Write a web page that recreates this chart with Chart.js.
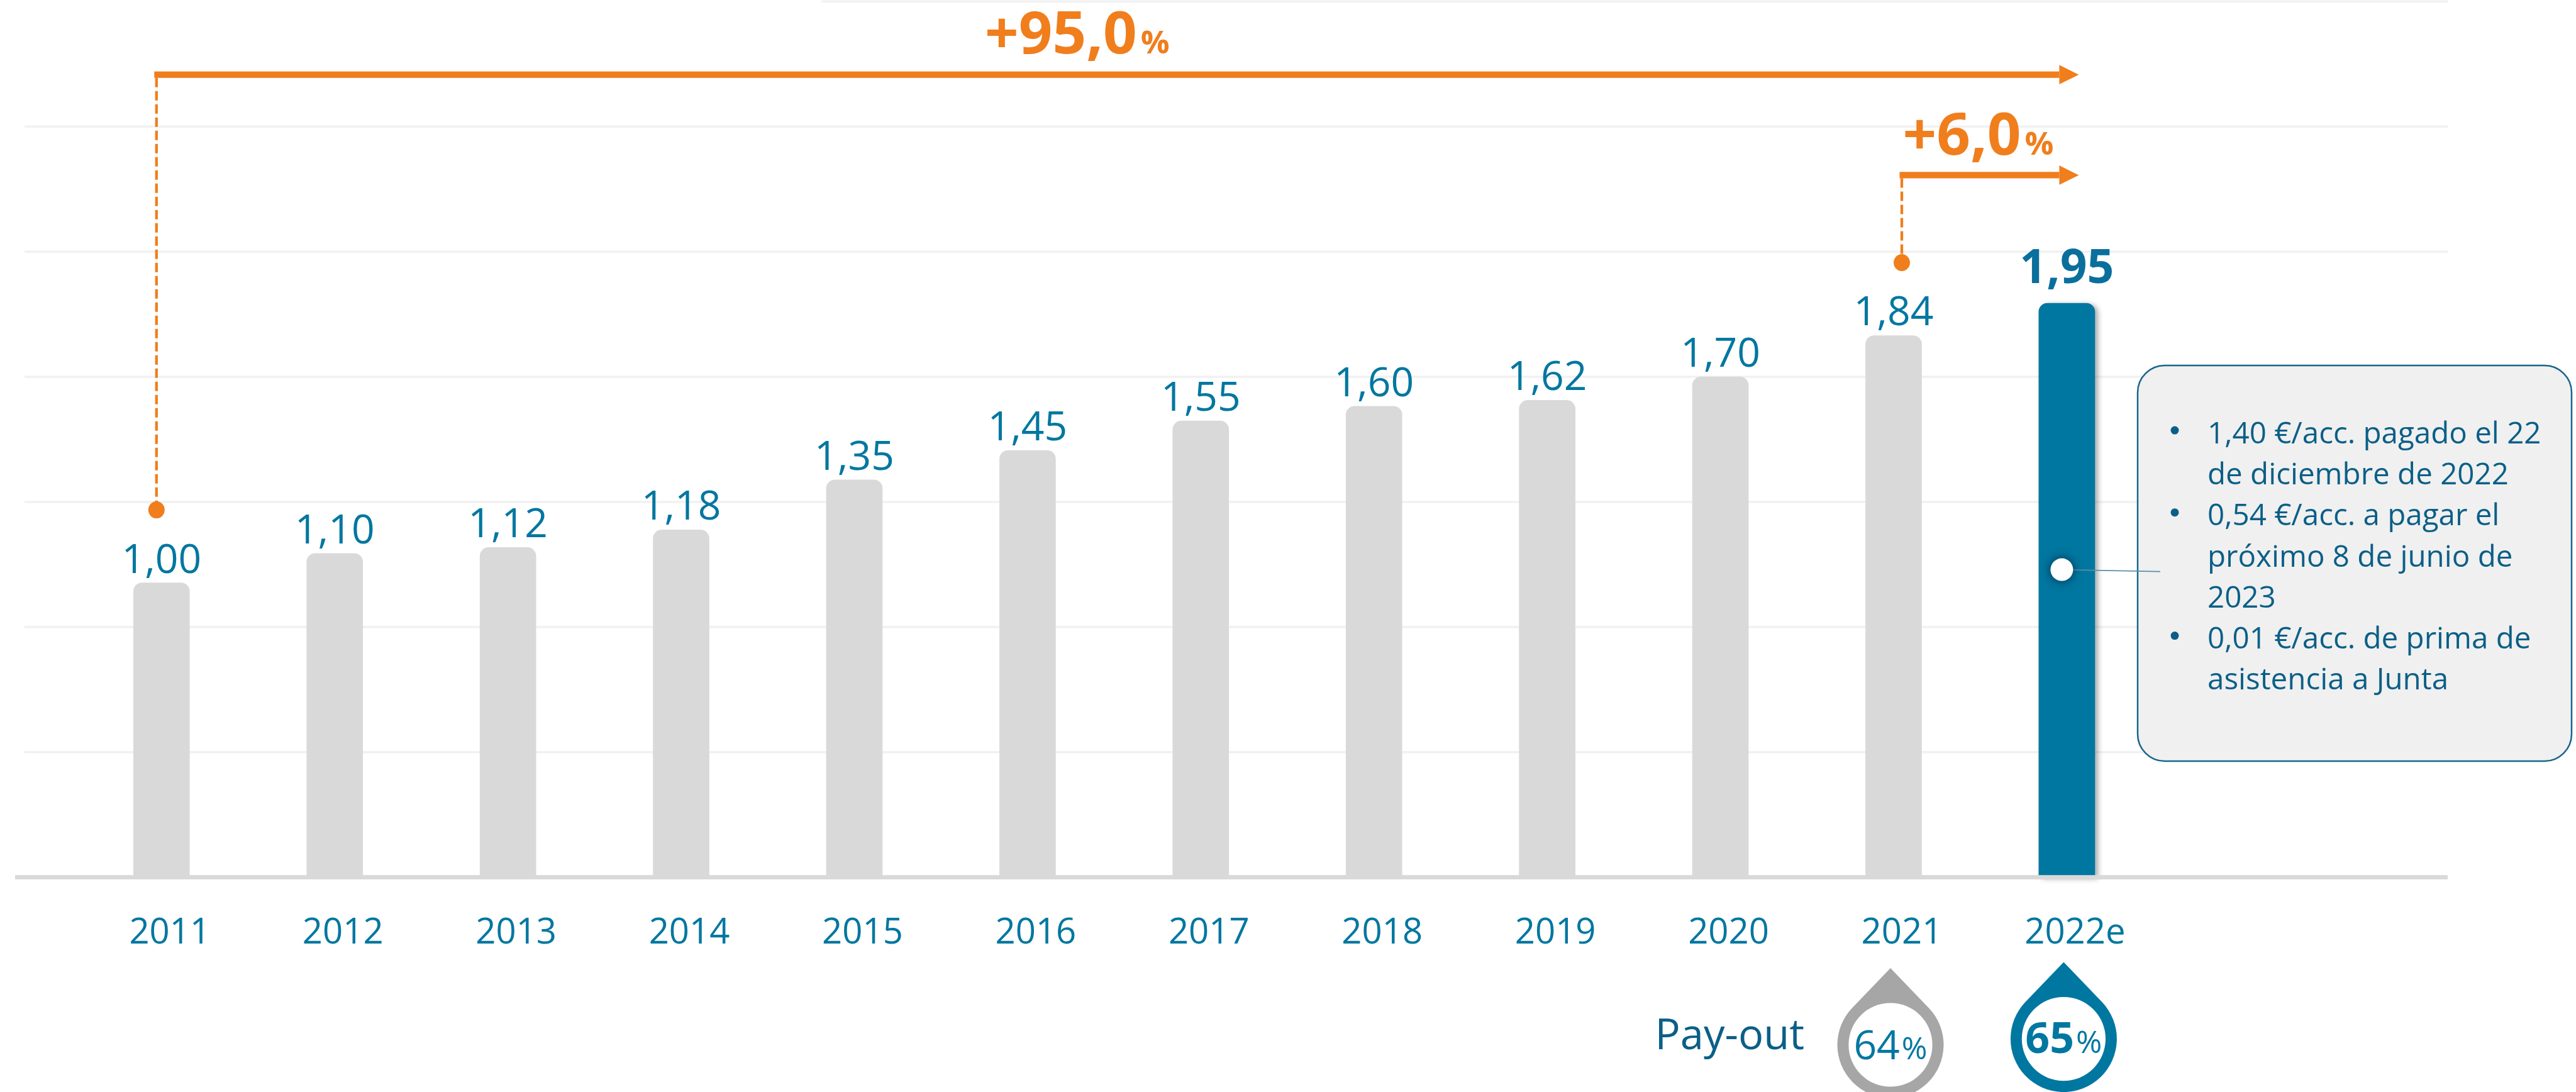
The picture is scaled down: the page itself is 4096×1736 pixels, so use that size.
<!DOCTYPE html>
<html><head><meta charset="utf-8">
<script src="https://cdn.jsdelivr.net/npm/chart.js"></script>
<style>html,body{margin:0;padding:0;background:#fff;overflow:hidden}canvas{display:block}</style>
</head><body>
<canvas id="c" width="4096" height="1736" style="width:4096px;height:1736px"></canvas>
<script>
// ---- data ----
const categories = ['2011','2012','2013','2014','2015','2016','2017','2018','2019','2020','2021','2022e'];
const dividendPerShare = [1.00,1.10,1.12,1.18,1.35,1.45,1.55,1.60,1.62,1.70,1.84,1.95];
const growthStartIndex = [0, 10];
const growthLabels = ['+95,0', '+6,0'];
const payoutCategories = ['2021','2022e'];
const payoutPct = [64, 65];
const payoutTitle = 'Pay-out';
const noteBullets = [
  ['1,40 €/acc. pagado el 22','de diciembre de 2022'],
  ['0,54 €/acc. a pagar el','próximo 8 de junio de','2023'],
  ['0,01 €/acc. de prima de','asistencia a Junta']
];
const gridStep = 0.425;
const axisMax = 2.975;

// ---- fonts: look for a regular-weight semi-condensed humanist sans ----
const probe = document.createElement('canvas').getContext('2d');
function tw(font, t){ probe.font = '10px monospace'; probe.font = font; return probe.measureText(t).width; }
function hasFont(name){
  const t='mmmmmmmmmlli1234567890WwQq';
  for (const base of ['monospace','serif']) {
    const w0 = tw('40px '+base, t);
    if (Math.abs(tw('40px "'+name+'", '+base, t)-w0)>0.01) return true;
  }
  return false;
}
const PT = 'Pay-out 2011 1,40 €/acc. pagado el 22';
const baseW = tw('400 40px "Open Sans"', PT);
const cands = [
  {fam:'"Noto Sans"', wt:'400 semi-condensed', bw:'700 semi-condensed', need:'Noto Sans'},
  {fam:'"Open Sans"', wt:'400 semi-condensed', bw:'700 semi-condensed', need:'Open Sans'},
  {fam:'"Noto Sans SemiCondensed"', wt:'400', bw:'700', need:'Noto Sans SemiCondensed'},
  {fam:'"Open Sans SemiCondensed"', wt:'400', bw:'700', need:'Open Sans SemiCondensed'}
];
let pick = null;
for (const c of cands){
  if (!hasFont(c.need)) continue;
  const r = tw(c.wt+' 40px '+c.fam, PT)/baseW;
  const rb = tw(c.bw+' 40px '+c.fam, PT)/baseW;
  if (r>0.78 && r<0.95 && rb>r*1.01){ pick=c; break; }
}
const REGF = pick ? pick.fam+', "Open Sans", sans-serif' : '"Open Sans", sans-serif';
const REGW = pick ? pick.wt : '400';
const K = pick ? 1 : 0.88;
const BOLD = '"Open Sans", sans-serif';
const reg = size => REGW+' '+(size*K)+'px '+REGF;

const GREY='#d9d9d9', BLUE='#0077a0', ORANGE='#f07e1c', GRID='#f1f1f1', DARK='#0b5f87';
const fmt = v => v.toFixed(2).replace('.', ',');

const annot = {
  id:'annot',
  beforeDatasetsDraw(chart){
    const {ctx, scales:{x,y}} = chart;
    ctx.save();
    const vals = y.ticks.map(t=>t.value).filter(v=>v>0.001);
    vals.forEach(v=>{
      const py = y.getPixelForValue(v);
      const top = Math.abs(v-axisMax)<0.01;
      ctx.fillStyle = GRID;
      ctx.fillRect(top?1306:39, py-1.7, 3892-(top?1306:39), 3.4);
    });
    const meta = chart.getDatasetMeta(0);
    const b = meta.data[meta.data.length-1];
    ctx.shadowColor='rgba(0,0,0,0.35)'; ctx.shadowBlur=8; ctx.shadowOffsetX=5; ctx.shadowOffsetY=2;
    ctx.fillStyle=BLUE;
    ctx.beginPath(); ctx.roundRect(b.x-b.width/2, b.y, b.width, b.base-b.y, [14,14,0,0]); ctx.fill();
    ctx.restore();
  },
  afterDatasetsDraw(chart){
    const {ctx, scales:{x,y}} = chart;
    const meta = chart.getDatasetMeta(0);
    const n = meta.data.length;
    ctx.save();
    ctx.fillStyle = GREY;
    ctx.fillRect(24, y.getPixelForValue(0)-3.4, 3892-24, 6.8);
    ctx.textAlign='center'; ctx.textBaseline='alphabetic';
    meta.data.forEach((bar,i)=>{
      const last = i===n-1;
      ctx.font = last ? '700 75px '+BOLD : reg(73);
      ctx.fillStyle = last ? '#0a6f9c' : BLUE;
      ctx.fillText(fmt(dividendPerShare[i]), bar.x, bar.y-(last?32:16));
    });
    const arrowY = [118.7, 278.4];
    const dashOff = [-8, 13];
    const tipX = x.getPixelForValue(n-1) + 19;
    growthStartIndex.forEach((gi,k)=>{
      const dx = x.getPixelForValue(gi) + dashOff[k];
      const dotY = y.getPixelForValue(dividendPerShare[gi]) - 116;
      const ay = arrowY[k];
      ctx.strokeStyle=ORANGE; ctx.lineWidth=4.3; ctx.setLineDash([15,6]);
      ctx.beginPath(); ctx.moveTo(dx, ay+5); ctx.lineTo(dx, dotY); ctx.stroke();
      ctx.setLineDash([]);
      ctx.fillStyle=ORANGE;
      ctx.beginPath(); ctx.ellipse(dx, dotY, 13, 13.5, 0, 0, 2*Math.PI); ctx.fill();
      ctx.fillRect(dx-3.5, ay-5.1, tipX-31-(dx-3.5), 10.2);
      ctx.beginPath(); ctx.moveTo(tipX-31, ay-15.4); ctx.lineTo(tipX, ay); ctx.lineTo(tipX-31, ay+15.4); ctx.closePath(); ctx.fill();
      ctx.textAlign='left';
      const lx = k===0 ? 1566 : dx-3.5+5;
      const lb = k===0 ? 84.5 : 246;
      ctx.font='700 94px '+BOLD;
      ctx.fillText(growthLabels[k], lx, lb);
      const w = ctx.measureText(growthLabels[k]).width;
      ctx.font='700 51px '+BOLD;
      ctx.fillText('%', lx+w+6, lb);
    });
    // callout box
    ctx.fillStyle='#f0f0f0'; ctx.strokeStyle='#17658c'; ctx.lineWidth=2.5;
    ctx.beginPath(); ctx.roundRect(3399, 581, 690, 629, 43); ctx.fill(); ctx.stroke();
    const hb = meta.data[n-1];
    const dotX = hb.x - 8, dotY = y.getPixelForValue(1.045);
    ctx.strokeStyle='#5d8fa8'; ctx.lineWidth=1.7;
    ctx.beginPath(); ctx.moveTo(dotX, dotY); ctx.lineTo(3435, dotY+3); ctx.stroke();
    ctx.save();
    ctx.shadowColor='rgba(0,30,60,0.85)'; ctx.shadowBlur=16;
    ctx.fillStyle='#ffffff';
    ctx.beginPath(); ctx.arc(dotX, dotY, 18, 0, 2*Math.PI); ctx.fill();
    ctx.restore();
    ctx.fillStyle=DARK; ctx.textAlign='left';
    ctx.font=reg(54);
    let by = 704.6;
    noteBullets.forEach(lines=>{
      ctx.beginPath(); ctx.arc(3458, by-20.5, 6.5, 0, 2*Math.PI); ctx.fill();
      lines.forEach(l=>{ ctx.fillText(l, 3510, by); by += 65.3; });
    });
    // pay-out
    ctx.textAlign='right'; ctx.fillStyle=DARK;
    ctx.font=reg(76);
    ctx.fillText(payoutTitle, 2869, 1668);
    const dropCfg = [{col:'#a6a6a6', dy:9.4, bold:false},{col:BLUE, dy:0, bold:true}];
    payoutCategories.forEach((cat,k)=>{
      const cx = x.getPixelForValue(categories.indexOf(cat)) - 5;
      const cy = 1651.6 + dropCfg[k].dy;
      const tipY = cy - 122.1, Ro = 84.5, Ri = 66.6;
      const a = Math.acos(Ro/(cy-tipY));
      ctx.fillStyle = dropCfg[k].col;
      ctx.beginPath(); ctx.moveTo(cx, tipY);
      ctx.arc(cx, cy, Ro, -Math.PI/2 + a, 3*Math.PI/2 - a);
      ctx.closePath(); ctx.fill();
      ctx.fillStyle='#fff';
      ctx.beginPath(); ctx.arc(cx, cy, Ri, 0, 2*Math.PI); ctx.fill();
      const main = String(payoutPct[k]);
      const f1 = dropCfg[k].bold ? '700 68px '+BOLD : reg(73);
      const f2 = dropCfg[k].bold ? '400 50px '+BOLD : reg(56);
      ctx.font=f1; const w1=ctx.measureText(main).width;
      ctx.font=f2; const w2=ctx.measureText('%').width;
      const sx = cx - (w1+3+w2)/2;
      const base = cy + 22.5;
      ctx.fillStyle = BLUE; ctx.textAlign='left';
      ctx.font=f1; ctx.fillText(main, sx, base);
      ctx.font=f2; ctx.fillText('%', sx+w1+3, base);
    });
    ctx.restore();
  }
};

new Chart(document.getElementById('c').getContext('2d'), {
  type:'bar',
  data:{labels:categories, datasets:[{
    data:dividendPerShare,
    backgroundColor: categories.map((c,i)=> i===categories.length-1 ? BLUE : GREY),
    borderRadius:14, borderSkipped:'start', borderWidth:0, barThickness:89
  }]},
  options:{
    responsive:false, animation:false, devicePixelRatio:1,
    layout:{padding:{left:119.1, right:671.9, top:2.3, bottom:0}},
    plugins:{legend:{display:false}, tooltip:{enabled:false}},
    scales:{
      x:{grid:{display:false, drawTicks:false}, border:{display:false},
         ticks:{color:BLUE, font:{family:REGF, weight:REGW, size:64*K, lineHeight:1.2}, padding:56, labelOffset:13, maxRotation:0, autoSkip:false},
         afterFit:s=>{ s.height = 341.4; }},
      y:{min:0, max:axisMax, ticks:{display:false, stepSize:gridStep}, grid:{display:false, drawTicks:false}, border:{display:false},
         afterFit:s=>{ s.width = 0; }}
    }
  },
  plugins:[annot]
});
</script>
</body></html>
